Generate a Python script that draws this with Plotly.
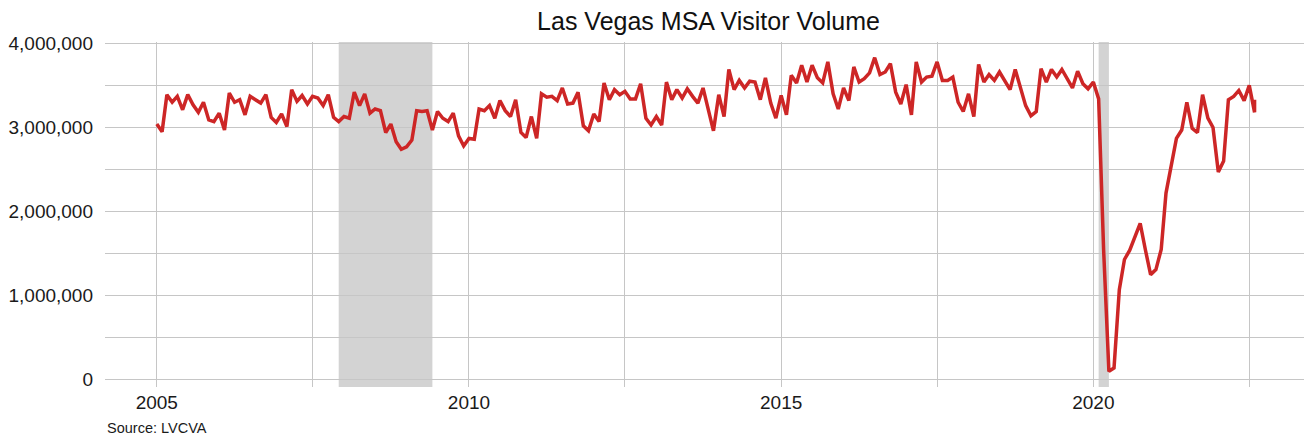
import pandas as pd
import plotly.graph_objects as go

# Monthly visitor volume (millions), Jan 2005 - Aug 2022 (last month reported twice in source)
v2005 = [3.04, 2.95, 3.39, 3.30, 3.37, 3.21, 3.39, 3.27, 3.18, 3.30, 3.09, 3.07]
v2006 = [3.17, 2.97, 3.41, 3.30, 3.33, 3.15, 3.37, 3.33, 3.29, 3.39, 3.12, 3.06]
v2007 = [3.16, 3.01, 3.45, 3.31, 3.38, 3.28, 3.37, 3.35, 3.26, 3.39, 3.12, 3.07]
v2008 = [3.13, 3.11, 3.42, 3.26, 3.40, 3.17, 3.22, 3.20, 2.94, 3.04, 2.83, 2.74]
v2009 = [2.77, 2.85, 3.20, 3.19, 3.20, 2.97, 3.19, 3.11, 3.07, 3.17, 2.90, 2.78]
v2010 = [2.87, 2.86, 3.22, 3.20, 3.26, 3.11, 3.32, 3.20, 3.13, 3.33, 2.94, 2.88]
v2011 = [3.13, 2.87, 3.40, 3.36, 3.37, 3.32, 3.47, 3.28, 3.29, 3.42, 3.02, 2.96]
v2012 = [3.16, 3.07, 3.53, 3.33, 3.45, 3.39, 3.43, 3.34, 3.34, 3.52, 3.11, 3.03]
v2013 = [3.13, 3.03, 3.54, 3.33, 3.45, 3.35, 3.46, 3.37, 3.29, 3.47, 3.20, 2.96]
v2014 = [3.39, 3.13, 3.69, 3.45, 3.56, 3.47, 3.55, 3.54, 3.33, 3.59, 3.29, 3.11]
v2015 = [3.38, 3.15, 3.62, 3.53, 3.74, 3.54, 3.74, 3.59, 3.53, 3.78, 3.40, 3.22]
v2016 = [3.47, 3.32, 3.72, 3.54, 3.58, 3.65, 3.83, 3.63, 3.66, 3.76, 3.42, 3.28]
v2017 = [3.51, 3.15, 3.78, 3.54, 3.60, 3.61, 3.78, 3.56, 3.56, 3.60, 3.30, 3.19]
v2018 = [3.40, 3.13, 3.75, 3.54, 3.63, 3.56, 3.66, 3.55, 3.45, 3.69, 3.48, 3.26]
v2019 = [3.14, 3.19, 3.70, 3.54, 3.69, 3.60, 3.69, 3.57, 3.47, 3.67, 3.52, 3.46]
v2020 = [3.54, 3.34, 1.55, 0.10, 0.14, 1.07, 1.43, 1.54, 1.69, 1.86, 1.54, 1.25]
v2021 = [1.31, 1.55, 2.22, 2.53, 2.87, 2.97, 3.30, 2.99, 2.94, 3.39, 3.11, 3.00]
v2022 = [2.47, 2.60, 3.33, 3.37, 3.44, 3.32, 3.50, 3.18, 3.33]

values_m = (v2005 + v2006 + v2007 + v2008 + v2009 + v2010 + v2011 + v2012 + v2013
            + v2014 + v2015 + v2016 + v2017 + v2018 + v2019 + v2020 + v2021 + v2022)
visitors = [round(v * 1_000_000) for v in values_m]

months = list(pd.date_range("2005-01-01", "2022-08-01", freq="MS"))
months.append(pd.Timestamp("2022-08-01"))

recession_start = ["2007-12-01", "2020-02-01"]
recession_end = ["2009-06-01", "2020-04-01"]

title_text = "Las Vegas MSA Visitor Volume"
source_text = "Source: LVCVA"

FONT = "Liberation Sans, Arial, sans-serif"
GRID = "#c6c6c6"

# page body has an 8px default margin, so the figure is sized to fit inside it
W, H = 1304, 431

fig = go.Figure()
fig.add_trace(go.Scatter(
    x=months, y=visitors, mode="lines",
    line=dict(color="#cd2626", width=3.5),
    hoverinfo="x+y", showlegend=False,
))

for s, e in zip(recession_start, recession_end):
    fig.add_shape(type="rect", xref="x", yref="paper", x0=s, x1=e, y0=0, y1=1,
                  fillcolor="#d3d3d3", line=dict(width=0), layer="below")

fig.update_layout(
    width=W, height=H,
    margin=dict(l=94, r=0, t=34, b=52),
    paper_bgcolor="white", plot_bgcolor="white",
    font=dict(family=FONT, size=19, color="#1a1a1a"),
    title=dict(text=title_text, x=0.5, xref="paper", xanchor="center",
               y=1 - 13 / H, yref="container", yanchor="middle",
               font=dict(family=FONT, size=25, color="#111111")),
    xaxis=dict(
        type="date", range=["2004-03-04", "2023-07-03"],
        tick0="2005-01-01", dtick="M60", tickformat="%Y",
        showgrid=True, gridcolor=GRID, gridwidth=1,
        minor=dict(tick0="2005-01-01", dtick="M30", showgrid=True,
                   gridcolor=GRID, gridwidth=1),
        ticks="", showline=False, zeroline=False,
        ticklabelstandoff=2,
        tickfont=dict(family=FONT, size=19, color="#1a1a1a"),
    ),
    yaxis=dict(
        range=[-86500, 4016500],
        tick0=0, dtick=1_000_000, tickformat=",d",
        showgrid=True, gridcolor=GRID, gridwidth=1,
        minor=dict(tick0=0, dtick=500_000, showgrid=True,
                   gridcolor=GRID, gridwidth=1),
        ticks="", showline=False, zeroline=False,
        ticklabelstandoff=11,
        tickfont=dict(family=FONT, size=19, color="#1a1a1a"),
    ),
    annotations=[dict(
        text=source_text, xref="paper", yref="paper", x=0.0, y=-0.118,
        xanchor="left", yanchor="middle", showarrow=False,
        font=dict(family=FONT, size=14.5, color="#1a1a1a"),
    )],
)

fig.write_html("out.html")
